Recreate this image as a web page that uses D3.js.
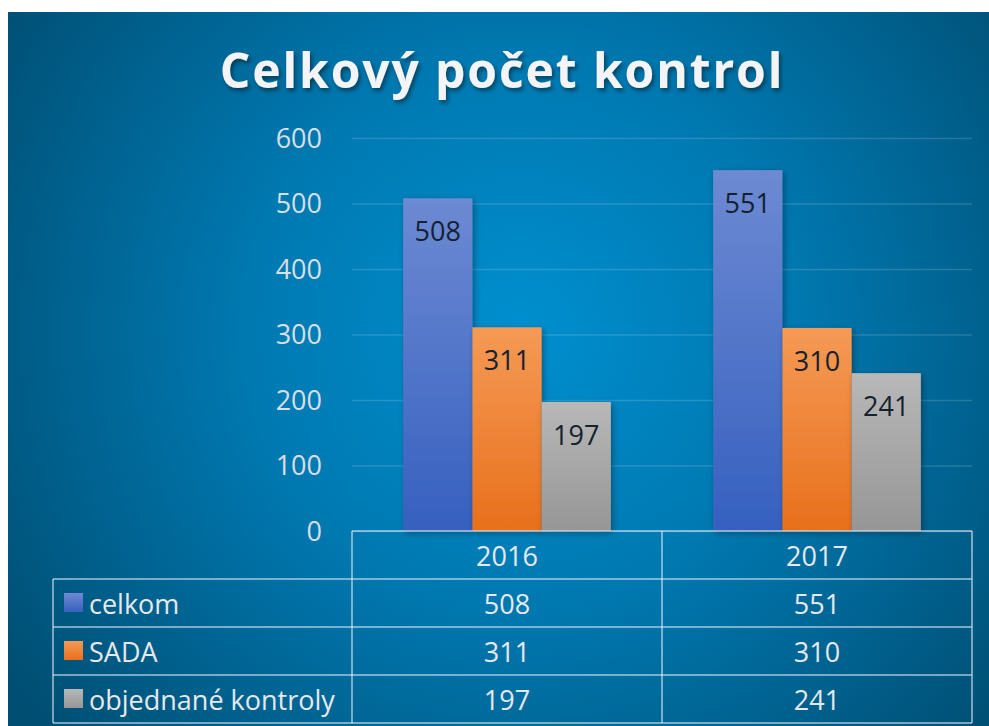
<!DOCTYPE html>
<html>
<head>
<meta charset="utf-8">
<script src="https://cdn.jsdelivr.net/npm/d3@7"></script>
<style>
  body { margin: 0; background: #fff; }
  svg { display: block; }
</style>
</head>
<body>
<div id="mywrap"></div>
<script>
const years = ["2016", "2017"]
const seriesNames = ["celkom", "SADA", "objednané kontroly"]
const celkom = [508, 551]
const sada = [311, 310]
const objednane = [197, 241]
const yTicks = [0, 100, 200, 300, 400, 500, 600]

const seriesValues = [celkom, sada, objednane]
const colors = [
    ["#6d8ad3", "#3660bf"],
    ["#f59a55", "#e8701c"],
    ["#b8b8b8", "#969696"]
]

let svg = d3.select("#mywrap").append("svg")
    .attr("width", 989)
    .attr("height", 726)

let defs = svg.append("defs")

let bg = defs.append("radialGradient")
    .attr("id", "bg")
    .attr("gradientUnits", "userSpaceOnUse")
    .attr("cx", 520).attr("cy", 330).attr("r", 620)
bg.append("stop").attr("offset", "0%").attr("stop-color", "#008fcf")
bg.append("stop").attr("offset", "45%").attr("stop-color", "#0078b0")
bg.append("stop").attr("offset", "100%").attr("stop-color", "#004e72")

colors.forEach((c, i) => {
    let g = defs.append("linearGradient")
        .attr("id", "bar" + i)
        .attr("x1", 0).attr("y1", 0).attr("x2", 0).attr("y2", 1)
    g.append("stop").attr("offset", "0%").attr("stop-color", c[0])
    g.append("stop").attr("offset", "100%").attr("stop-color", c[1])
})

let shadow = defs.append("filter").attr("id", "shadow")
    .attr("x", "-20%").attr("y", "-20%").attr("width", "140%").attr("height", "140%")
shadow.append("feDropShadow")
    .attr("dx", 2).attr("dy", 2).attr("stdDeviation", 3)
    .attr("flood-color", "#000").attr("flood-opacity", 0.35)

let tshadow = defs.append("filter").attr("id", "tshadow")
    .attr("x", "-10%").attr("y", "-30%").attr("width", "120%").attr("height", "160%")
tshadow.append("feDropShadow")
    .attr("dx", 2).attr("dy", 3).attr("stdDeviation", 2)
    .attr("flood-color", "#000").attr("flood-opacity", 0.45)

svg.append("rect")
    .attr("x", 8).attr("y", 12)
    .attr("width", 981).attr("height", 714)
    .attr("fill", "url(#bg)")

// title
svg.append("text")
    .attr("x", 502).attr("y", 88)
    .attr("text-anchor", "middle")
    .attr("font-family", "Open Sans")
    .attr("font-weight", "bold")
    .attr("font-size", 48)
    .attr("letter-spacing", 1.9)
    .attr("fill", "#f4f4f4")
    .attr("filter", "url(#tshadow)")
    .text("Celkový počet kontrol")

let plotLeft = 352, plotRight = 972, plotTop = 138, plotBottom = 531
let labelFont = "Open Sans", labelSize = 27

let xScale = d3.scaleBand()
    .domain(years)
    .range([plotLeft, plotRight])
    .paddingInner(0.33)
    .paddingOuter(0.165)

let xInner = d3.scaleBand()
    .domain(d3.range(seriesNames.length))
    .range([0, xScale.bandwidth()])

let yScale = d3.scaleLinear()
    .domain([0, 600])
    .range([plotBottom, plotTop])

// gridlines + y labels
let yAxis = d3.axisLeft(yScale)
    .tickValues(yTicks)
    .tickSize(-(plotRight - plotLeft))
    .tickPadding(30)

let yG = svg.append("g")
    .attr("transform", `translate(${plotLeft},0)`)
    .call(yAxis)
yG.select(".domain").remove()
yG.selectAll(".tick line")
    .attr("stroke", "#ffffff")
    .attr("stroke-opacity", 0.15)
    .attr("stroke-width", 1.5)
yG.selectAll(".tick text")
    .attr("font-family", labelFont)
    .attr("font-size", labelSize)
    .attr("fill", "#d8dfe4")
    .attr("dy", "0.35em")

// bars
let groups = svg.selectAll(".grp")
    .data(years)
    .enter()
    .append("g")
    .attr("transform", d => `translate(${xScale(d)},0)`)

groups.selectAll("rect")
    .data((d, i) => seriesValues.map((s, j) => ({ s: j, v: s[i] })))
    .enter()
    .append("rect")
    .attr("x", d => xInner(d.s))
    .attr("width", xInner.bandwidth())
    .attr("y", d => yScale(d.v))
    .attr("height", d => plotBottom - yScale(d.v))
    .attr("fill", d => `url(#bar${d.s})`)
    .attr("filter", "url(#shadow)")

groups.selectAll(".lbl")
    .data((d, i) => seriesValues.map((s, j) => ({ s: j, v: s[i] })))
    .enter()
    .append("text")
    .attr("x", d => xInner(d.s) + xInner.bandwidth() / 2)
    .attr("y", d => yScale(d.v) + 43)
    .attr("text-anchor", "middle")
    .attr("font-family", labelFont)
    .attr("font-size", labelSize)
    .attr("fill", "#142230")
    .text(d => d.v)

// data table
let tableLeft = 53, headH = 48, rowH = 48
let rows = [plotBottom + headH, plotBottom + headH + rowH, plotBottom + headH + 2 * rowH, plotBottom + headH + 3 * rowH]
let lineCol = "rgba(220,235,245,0.55)"
let tbl = svg.append("g")

tbl.append("line")
    .attr("x1", plotLeft).attr("x2", plotRight).attr("y1", plotBottom).attr("y2", plotBottom)
    .attr("stroke", lineCol).attr("stroke-width", 2)
rows.forEach(y => {
    tbl.append("line")
        .attr("x1", tableLeft).attr("x2", plotRight).attr("y1", y).attr("y2", y)
        .attr("stroke", lineCol).attr("stroke-width", 2)
})
let colXs = [plotLeft, xScale.step() + plotLeft, plotRight]
colXs.forEach(x => {
    tbl.append("line")
        .attr("x1", x).attr("x2", x).attr("y1", plotBottom).attr("y2", rows[3])
        .attr("stroke", lineCol).attr("stroke-width", 2)
})
tbl.append("line")
    .attr("x1", tableLeft).attr("x2", tableLeft).attr("y1", rows[0]).attr("y2", rows[3])
    .attr("stroke", lineCol).attr("stroke-width", 2)

let cellFont = (sel) => sel
    .attr("font-family", labelFont)
    .attr("font-size", labelSize)
    .attr("fill", "#e6e9ec")
    .attr("dominant-baseline", "central")

years.forEach(y => {
    tbl.append("text")
        .attr("x", xScale(y) + xScale.bandwidth() / 2)
        .attr("y", plotBottom + headH / 2)
        .attr("text-anchor", "middle")
        .call(cellFont)
        .text(y)
})

seriesNames.forEach((name, j) => {
    let cy = rows[j] + rowH / 2
    tbl.append("rect")
        .attr("x", 64).attr("y", cy - 10)
        .attr("width", 19).attr("height", 19)
        .attr("fill", `url(#bar${j})`)
    tbl.append("text")
        .attr("x", 89).attr("y", cy)
        .call(cellFont)
        .text(name)
    years.forEach((y, i) => {
        tbl.append("text")
            .attr("x", xScale(y) + xScale.bandwidth() / 2)
            .attr("y", cy)
            .attr("text-anchor", "middle")
            .call(cellFont)
            .text(seriesValues[j][i])
    })
})
</script>
</body>
</html>
